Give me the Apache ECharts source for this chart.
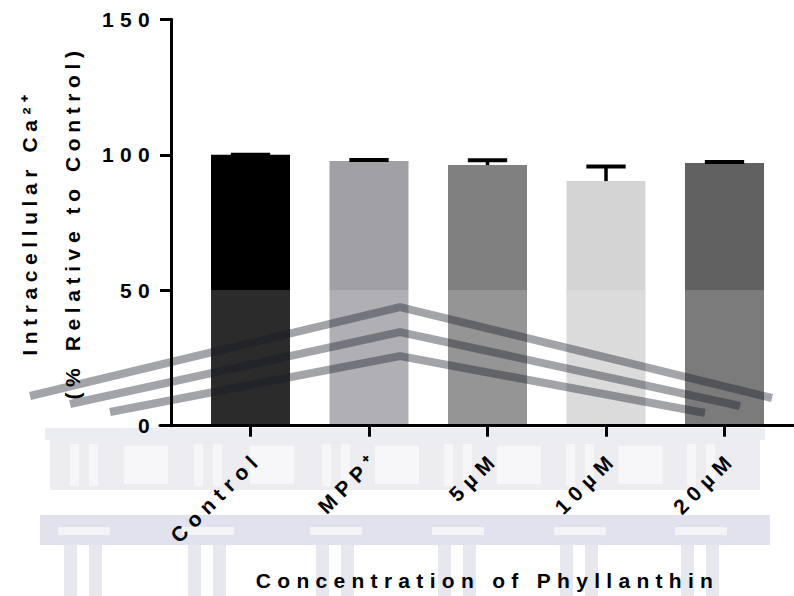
<!DOCTYPE html>
<html>
<head>
<meta charset="utf-8">
<script src="https://cdn.jsdelivr.net/npm/echarts@6/dist/echarts.min.js"></script>
<style>
  html, body { margin: 0; padding: 0; background: #ffffff; }
  #chart { width: 794px; height: 596px; }
  /* wide tracking used by the figure's bold Arial-style lettering */
  #chart text { letter-spacing: 6.3px; }
  /* the vertical axis title is set a little tighter */
  #chart text[transform^="matrix(0,-1"] { letter-spacing: 5.6px; }
</style>
</head>
<body>
<div id="chart"></div>
<script>
// Intracellular Ca2+ (% of control) after phyllanthin treatment
const categories = ['Control', 'MPP\u207A', '5\u00B5M', '10\u00B5M', '20\u00B5M'];
const meanValues = [100, 97.7, 96.2, 90.3, 97.0];
const semValues = [0, 0.4, 1.8, 5.4, 0.3];
const barColors = ['#000000', '#a1a1a5', '#808080', '#d4d4d4', '#616161'];
const yTickValues = [0, 50, 100, 150];

const FONT = 'Liberation Sans, Arial, sans-serif';
const textBase = { color: '#000', fontFamily: FONT, fontWeight: 'bold', fontSize: 21 };
const AXIS_Z = 50;

const chart = echarts.init(document.getElementById('chart'), null, { renderer: 'svg' });

// faint building watermark printed across the lower part of the page
// (sits above the bars but below the axes and their text)
const WM_Z = 10;
function wmRect(x, y, w, h, fill, opacity) {
  return { type: 'rect', z: WM_Z, silent: true, shape: { x: x, y: y, width: w, height: h }, style: { fill: fill, opacity: opacity } };
}
function wmBand(points) {
  return { type: 'polyline', z: WM_Z, silent: true, shape: { points: points }, style: { stroke: '#1a1b2a', lineWidth: 8, fill: null, opacity: 0.4, lineJoin: 'miter' } };
}
const wmCenters = [84, 208, 336, 458, 580, 701];
const wmChildren = [
  wmRect(25, 290, 750, 136, '#ffffff', 0.17),
  wmBand([[30, 396], [400, 307], [772, 398]]),
  wmBand([[70, 404], [400, 332], [740, 406]]),
  wmBand([[110, 412], [400, 356], [705, 413]]),
  wmRect(45, 428, 720, 12, '#c8cade', 0.35),
  wmRect(50, 440, 710, 50, '#d9dae4', 0.5),
  wmRect(40, 515, 730, 30, '#c3c6dc', 0.5)
];
wmCenters.forEach(function (c, i) {
  wmChildren.push(
    wmRect(c - 14, 444, 9, 42, '#ffffff', 0.55),
    wmRect(c + 5, 444, 9, 42, '#ffffff', 0.55),
    wmRect(c - 26, 527, 52, 8, '#ffffff', 0.6),
    wmRect(c - 20, 545, 13, 51, '#cdd0e0', 0.5),
    wmRect(c + 5, 545, 13, 51, '#cdd0e0', 0.5)
  );
  if (i < wmCenters.length - 1) {
    const mid = (c + wmCenters[i + 1]) / 2;
    wmChildren.push(wmRect(mid - 22, 446, 44, 38, '#ffffff', 0.6));
  }
});

const option = {
  animation: false,
  backgroundColor: '#ffffff',
  grid: [
    { left: 191.25, right: 10.25, top: 19.3, bottom: 170.3, outerBoundsMode: 'none', containLabel: false },
    { left: 160, right: 0, top: 19.3, bottom: 170.3, outerBoundsMode: 'none', containLabel: false }
  ],
  xAxis: [
    {
      type: 'category',
      gridIndex: 0,
      z: AXIS_Z,
      data: categories,
      axisLine: { show: false },
      axisTick: { show: true, alignWithLabel: true, length: 11, lineStyle: { color: '#000', width: 3 } },
      axisLabel: Object.assign({}, textBase, { rotate: 45, margin: 22, verticalAlign: 'top', interval: 0 }),
      name: 'Concentration of Phyllanthin',
      nameLocation: 'middle',
      nameGap: 144,
      nameMoveOverlap: false,
      nameTextStyle: Object.assign({}, textBase)
    },
    {
      type: 'value',
      gridIndex: 1,
      z: AXIS_Z,
      min: 0,
      max: 1,
      axisLine: { show: true, lineStyle: { color: '#000', width: 3 } },
      axisTick: { show: false },
      axisLabel: { show: false },
      splitLine: { show: false }
    }
  ],
  yAxis: [
    {
      type: 'value',
      gridIndex: 0,
      z: AXIS_Z,
      min: yTickValues[0],
      max: yTickValues[yTickValues.length - 1],
      interval: yTickValues[1] - yTickValues[0],
      offset: 20.25,
      axisLine: { show: true, lineStyle: { color: '#000', width: 3 } },
      axisTick: { show: true, length: 11, lineStyle: { color: '#000', width: 3 } },
      axisLabel: Object.assign({}, textBase, { margin: 15 }),
      splitLine: { show: false },
      name: 'Intracellular Ca\u00B2\u207A\n(% Relative to Control)',
      nameLocation: 'middle',
      nameGap: 77,
      nameMoveOverlap: false,
      nameTextStyle: Object.assign({}, textBase, { lineHeight: 43 })
    },
    { type: 'value', gridIndex: 1, show: false, min: 0, max: 1 }
  ],
  series: [
    {
      type: 'bar',
      xAxisIndex: 0,
      yAxisIndex: 0,
      z: 2,
      barWidth: 79,
      data: meanValues.map(function (v, i) {
        return { value: v, itemStyle: { color: barColors[i] } };
      })
    },
    {
      type: 'custom',
      xAxisIndex: 0,
      yAxisIndex: 0,
      z: 3,
      data: meanValues.map(function (v, i) { return [i, v, semValues[i]]; }),
      renderItem: function (params, api) {
        const idx = api.value(0);
        const mean = api.value(1);
        const err = api.value(2);
        const base = api.coord([idx, mean]);
        const top = api.coord([idx, mean + err]);
        const halfCap = api.size([1, 0])[0] * 0.166;
        return {
          type: 'group',
          children: [
            { type: 'line', shape: { x1: base[0], y1: base[1], x2: top[0], y2: top[1] }, style: { stroke: '#000', lineWidth: 3.5 } },
            { type: 'line', shape: { x1: top[0] - halfCap, y1: top[1], x2: top[0] + halfCap, y2: top[1] }, style: { stroke: '#000', lineWidth: 4 } }
          ]
        };
      }
    }
  ],
  graphic: { elements: wmChildren }
};

chart.setOption(option);
</script>
</body>
</html>
